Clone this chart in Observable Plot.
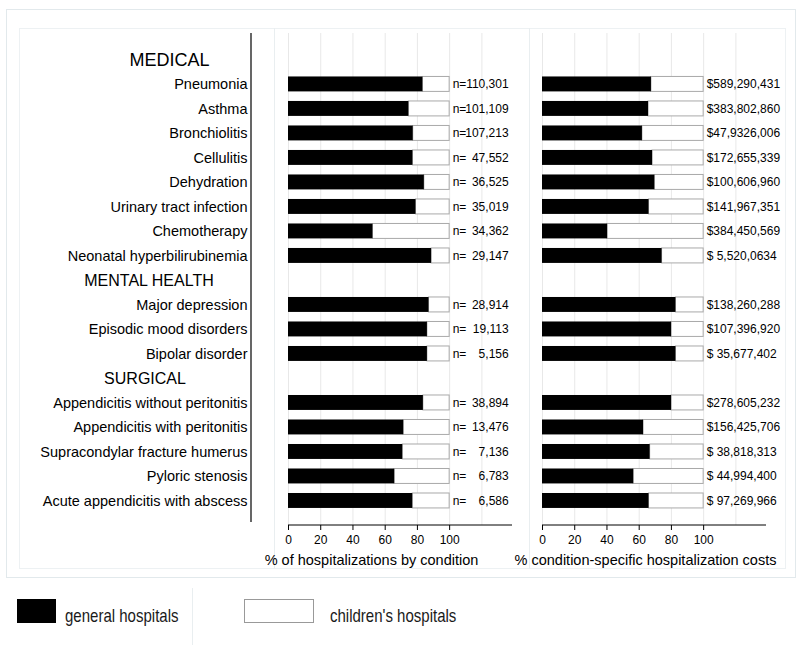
<!DOCTYPE html>
<html>
<head>
<meta charset="utf-8">
<script src="https://cdn.jsdelivr.net/npm/d3@7"></script>
<script src="https://cdn.jsdelivr.net/npm/@observablehq/plot@0.6"></script>
<style>
  html, body { margin: 0; padding: 0; background: #fff; }
  #wrap { position: relative; width: 800px; height: 645px; overflow: hidden;
          font-family: "Liberation Sans", Arial, Helvetica, sans-serif; color: #000; }
  .box { position: absolute; border: 1px solid #e2e9ec; box-sizing: border-box; }
  .vsep { position: absolute; width: 1px; background: #e9eef0; }
  #left, #right { position: absolute; top: 0; }
  #left { left: 0; }
  #right { left: 500px; }
  svg text { white-space: pre; }
  .swatch { position: absolute; box-sizing: border-box; }
  .ltext { position: absolute; font-size: 19px; line-height: 19px; white-space: nowrap;
           transform: scaleX(0.79); transform-origin: left center; color: #1a1a1a; }
</style>
</head>
<body>
<div id="wrap">
  <div class="box" style="left:6px;top:9px;width:790px;height:569px;"></div>
  <div class="box" style="left:19px;top:28px;width:767px;height:541px;border-color:#edf1f3;"></div>
  <div class="vsep" style="left:274px;top:28px;height:541px;"></div>
  <div class="vsep" style="left:529px;top:28px;height:541px;"></div>
  <div id="left"></div>
  <div id="right"></div>
  <div id="legend"></div>
</div>
<script>
// ---------- data ----------
const sections = ["MEDICAL", "MENTAL HEALTH", "SURGICAL"];
const conditions = [
  "Pneumonia", "Asthma", "Bronchiolitis", "Cellulitis", "Dehydration",
  "Urinary tract infection", "Chemotherapy", "Neonatal hyperbilirubinemia",
  "Major depression", "Episodic mood disorders", "Bipolar disorder",
  "Appendicitis without peritonitis", "Appendicitis with peritonitis",
  "Supracondylar fracture humerus", "Pyloric stenosis", "Acute appendicitis with abscess"
];
const conditionSection = [
  "MEDICAL", "MEDICAL", "MEDICAL", "MEDICAL", "MEDICAL", "MEDICAL", "MEDICAL", "MEDICAL",
  "MENTAL HEALTH", "MENTAL HEALTH", "MENTAL HEALTH",
  "SURGICAL", "SURGICAL", "SURGICAL", "SURGICAL", "SURGICAL"
];
// % of hospitalizations at general hospitals
const generalPctHosp = [83.4, 74.7, 77.4, 77.2, 84.3, 79.1, 52.4, 88.8, 87.2, 86.2, 86.2, 83.7, 71.5, 70.9, 65.9, 77.1];
// % of condition-specific costs at general hospitals
const generalPctCost = [67.6, 65.8, 62.0, 68.3, 69.7, 66.1, 40.4, 74.2, 82.8, 80.1, 82.8, 80.1, 62.7, 66.8, 56.6, 66.1];
const hospCounts = [110301, 101109, 107213, 47552, 36525, 35019, 34362, 29147, 28914, 19113, 5156, 38894, 13476, 7136, 6783, 6586];
const costLabels = [
  "$589,290,431", "$383,802,860", "$47,9326,006", "$172,655,339", "$100,606,960",
  "$141,967,351", "$384,450,569", "$ 5,520,0634", "$138,260,288", "$107,396,920",
  "$ 35,677,402", "$278,605,232", "$156,425,706", "$ 38,818,313", "$ 44,994,400", "$ 97,269,966"
];
const xTicks = [0, 20, 40, 60, 80, 100];
const gridTicks = [0, 20, 40, 60, 80, 100, 120];
const totalPct = 100;
const xMax = 139;
const axisTitles = ["% of hospitalizations by condition", "% condition-specific hospitalization costs"];
const legendLabels = ["general hospitals", "children's hospitals"];

// ---------- derived ----------
const rows = [];
sections.forEach(s => { rows.push(s); conditions.forEach((c, i) => { if (conditionSection[i] === s) rows.push(c); }); });
const data = conditions.map((name, i) => ({
  name, hosp: generalPctHosp[i], cost: generalPctCost[i], n: hospCounts[i], costLabel: costLabels[i]
}));
const fmt = d3.format(",");
const font = '"Liberation Sans", Arial, Helvetica, sans-serif';

function frameBottomLine(index, scales, values, dim) {
  return d3.create("svg:line")
    .attr("x1", dim.marginLeft).attr("x2", dim.width - dim.marginRight)
    .attr("y1", dim.height - dim.marginBottom).attr("y2", dim.height - dim.marginBottom)
    .attr("stroke", "#000").attr("stroke-width", 1).node();
}
function leftRule(index, scales, values, dim) {
  const x = dim.marginLeft - 37;
  return d3.create("svg:line")
    .attr("x1", x).attr("x2", x)
    .attr("y1", dim.marginTop).attr("y2", dim.height - dim.marginBottom - 3)
    .attr("stroke", "#000").attr("stroke-width", 1.2).node();
}

const common = {
  height: 580, marginTop: 33, marginBottom: 55,
  style: { background: "transparent", overflow: "visible", fontFamily: font, color: "#000" },
  x: { domain: [0, xMax] },
  y: { domain: rows, padding: 0.39, round: false, insetTop: 9.4, insetBottom: 7.5 }
};

const left = Plot.plot({
  ...common,
  width: 530, marginLeft: 288, marginRight: 18,
  marks: [
    Plot.ruleX(gridTicks, { stroke: "#e8e8e8" }),
    Plot.barX(data, { y: "name", x1: "hosp", x2: totalPct, fill: "white", stroke: "#a9a9a9", strokeWidth: 1 }),
    Plot.barX(data, { y: "name", x1: 0, x2: "hosp", fill: "black" }),
    Plot.text(data, { y: "name", x: totalPct, text: () => "n=", dx: 3, textAnchor: "start", fontSize: 12 }),
    Plot.text(data, { y: "name", x: totalPct, text: d => fmt(d.n), dx: 59, textAnchor: "end", fontSize: 12 }),
    Plot.axisX({ ticks: xTicks, tickSize: 5, tickPadding: 5, fontSize: 12, label: null }),
    Plot.axisY({ tickSize: 0, tickPadding: 41, fontSize: 14.5, label: null,
                 tickFormat: d => sections.includes(d) ? "" : d }),
    Plot.text([sections[0]], { y: d => d, frameAnchor: "left", dx: -119, textAnchor: "middle", fontSize: 18 }),
    Plot.text([sections[1]], { y: d => d, frameAnchor: "left", dx: -139.5, textAnchor: "middle", fontSize: 16 }),
    Plot.text([sections[2]], { y: d => d, frameAnchor: "left", dx: -143.5, textAnchor: "middle", fontSize: 16 }),
    Plot.text([axisTitles[0]], { frameAnchor: "bottom", dy: 39, dx: -29, fontSize: 14.5 }),
    frameBottomLine,
    leftRule
  ]
});
document.getElementById("left").appendChild(left);

const right = Plot.plot({
  ...common,
  width: 300, marginLeft: 42, marginRight: 34,
  marks: [
    Plot.ruleX(gridTicks, { stroke: "#e8e8e8" }),
    Plot.barX(data, { y: "name", x1: "cost", x2: totalPct, fill: "white", stroke: "#a9a9a9", strokeWidth: 1 }),
    Plot.barX(data, { y: "name", x1: 0, x2: "cost", fill: "black" }),
    Plot.text(data, { y: "name", x: totalPct, text: "costLabel", dx: 3, textAnchor: "start", fontSize: 12 }),
    Plot.axisX({ ticks: xTicks, tickSize: 5, tickPadding: 5, fontSize: 12, label: null }),
    Plot.axisY({ ticks: [], tickSize: 0, label: null }),
    Plot.text([axisTitles[1]], { frameAnchor: "bottom", dy: 39, dx: -9, fontSize: 14.5 }),
    frameBottomLine
  ]
});
document.getElementById("right").appendChild(right);

// ---------- legend ----------
const lg = d3.select("#legend");
lg.append("div").attr("class", "swatch")
  .style("left", "17px").style("top", "599px").style("width", "39px").style("height", "24px")
  .style("background", "#000");
lg.append("div").attr("class", "ltext").style("left", "65px").style("top", "606px").text(legendLabels[0]);
lg.append("div").attr("class", "vsep").style("left", "192px").style("top", "588px").style("height", "57px");
lg.append("div").attr("class", "swatch")
  .style("left", "244px").style("top", "599px").style("width", "70px").style("height", "24px")
  .style("background", "#fff").style("border", "1px solid #999");
lg.append("div").attr("class", "ltext").style("left", "330px").style("top", "606px").text(legendLabels[1]);
</script>
</body>
</html>
